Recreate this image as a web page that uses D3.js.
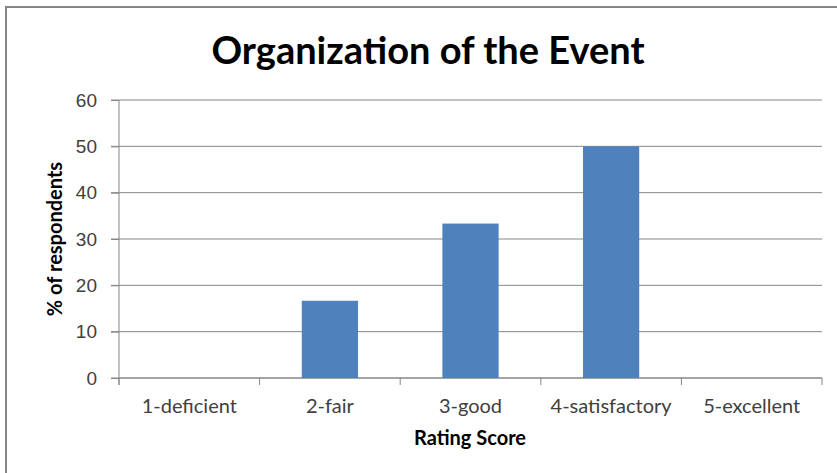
<!DOCTYPE html>
<html>
<head>
<meta charset="utf-8">
<script src="https://cdn.jsdelivr.net/npm/d3@7"></script>
<style>
  body { margin: 0; background: #fff; }
  svg { display: block; font-family: Lato, "Open Sans", sans-serif; }
  .axis text { fill: #404040; font-size: 19px; }
  .axis .lbl { font-size: 20px; }
  .axis path, .axis line { stroke: #868686; }
</style>
</head>
<body>
<div class="bar-chart"></div>
<script>
const categories = ['1-deficient', '2-fair', '3-good', '4-satisfactory', '5-excellent'];
const values = [0, 16.67, 33.33, 50, 0];
const yTicks = [0, 10, 20, 30, 40, 50, 60];

const W = 837, H = 473;
const margin = { top: 100, right: 15, bottom: 95, left: 119 };
const width = W - margin.left - margin.right;
const height = H - margin.top - margin.bottom;

const svg = d3.select('.bar-chart').append('svg')
  .attr('width', W)
  .attr('height', H);

// outer frame
svg.append('rect')
  .attr('x', 6).attr('y', 7)
  .attr('width', W + 10).attr('height', H + 10)
  .attr('fill', '#fff')
  .attr('stroke', '#868686')
  .attr('stroke-width', 2);

const g = svg.append('g')
  .attr('transform', `translate(${margin.left},${margin.top})`);

const xEdge = d3.scaleBand().domain(categories).range([0, width]);
const y = d3.scaleLinear().domain([0, 60]).range([height, 0]);
const barW = xEdge.bandwidth() * 0.4;

// gridlines
g.append('g')
  .selectAll('line')
  .data(yTicks)
  .enter()
  .append('line')
  .attr('x1', -8)
  .attr('x2', width)
  .attr('y1', d => y(d))
  .attr('y2', d => y(d))
  .attr('stroke', '#868686')
  .attr('stroke-width', 1);

// y axis
g.append('g')
  .attr('class', 'axis')
  .call(d3.axisLeft(y).tickValues(yTicks).tickSize(8).tickPadding(14))
  .call(a => a.attr('font-size', null))
  .call(a => a.select('.domain').attr('d', `M0,${height + 7}V0`));

// x axis with ticks at band edges
const xAxis = g.append('g')
  .attr('class', 'axis')
  .attr('transform', `translate(0,${height})`);
xAxis.append('line')
  .attr('x1', 0).attr('x2', width)
  .attr('stroke', '#868686');
xAxis.selectAll('.edge')
  .data(categories.concat(['end']))
  .enter()
  .append('line')
  .attr('class', 'edge')
  .attr('x1', (d, i) => i < categories.length ? xEdge(d) : width)
  .attr('x2', (d, i) => i < categories.length ? xEdge(d) : width)
  .attr('y1', 0).attr('y2', 7)
  .attr('stroke', '#868686');
xAxis.selectAll('.lbl')
  .data(categories)
  .enter()
  .append('text')
  .attr('class', 'lbl')
  .attr('x', d => xEdge(d) + xEdge.bandwidth() / 2)
  .attr('y', 35)
  .attr('text-anchor', 'middle')
  .text(d => d);

// bars
g.selectAll('.bar')
  .data(values)
  .enter()
  .append('rect')
  .attr('class', 'bar')
  .attr('x', (d, i) => xEdge(categories[i]) + (xEdge.bandwidth() - barW) / 2)
  .attr('width', barW)
  .attr('y', d => y(d))
  .attr('height', d => height - y(d))
  .attr('fill', '#4F81BD');

// title
svg.append('text')
  .attr('x', 428)
  .attr('y', 64)
  .attr('text-anchor', 'middle')
  .attr('font-size', 38)
  .attr('font-weight', 'bold')
  .attr('fill', '#000')
  .text('Organization of the Event');

// axis titles
svg.append('text')
  .attr('x', 470)
  .attr('y', 445)
  .attr('text-anchor', 'middle')
  .attr('font-size', 20)
  .attr('font-weight', 'bold')
  .attr('fill', '#000')
  .text('Rating Score');

svg.append('text')
  .attr('transform', `translate(62,${margin.top + height / 2}) rotate(-90)`)
  .attr('text-anchor', 'middle')
  .attr('font-size', 20)
  .attr('font-weight', 'bold')
  .attr('fill', '#000')
  .text('% of respondents');
</script>
</body>
</html>
